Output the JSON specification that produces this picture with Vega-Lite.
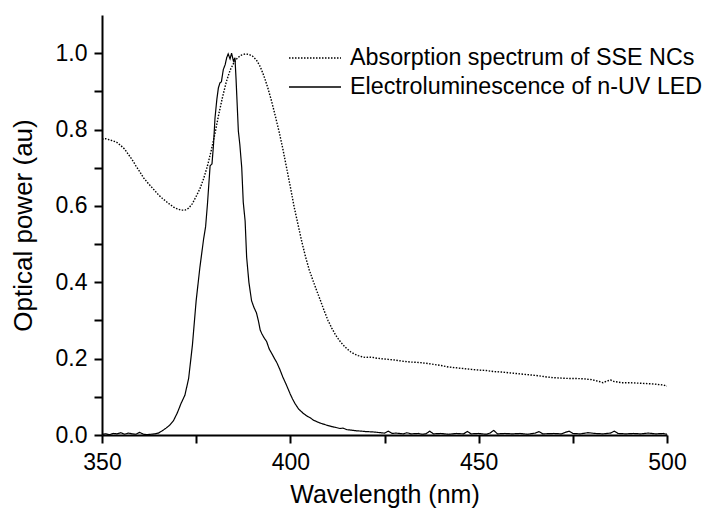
{
  "$schema": "https://vega.github.io/schema/vega-lite/v6.json",
  "width": 565,
  "height": 420,
  "autosize": {"type": "none"},
  "padding": {"left": 102, "top": 15, "right": 40, "bottom": 75},
  "background": "white",
  "datasets": {
    "abs": [
      {"w":350,"v":0.775},{"w":351,"v":0.776},{"w":352,"v":0.773},{"w":353,"v":0.770},{"w":354,"v":0.766},
      {"w":355,"v":0.758},{"w":356,"v":0.749},{"w":357,"v":0.735},{"w":358,"v":0.721},{"w":359,"v":0.705},
      {"w":360,"v":0.690},{"w":361,"v":0.674},{"w":362,"v":0.662},{"w":363,"v":0.651},{"w":364,"v":0.640},
      {"w":365,"v":0.629},{"w":366,"v":0.620},{"w":367,"v":0.612},{"w":368,"v":0.604},{"w":369,"v":0.597},
      {"w":370,"v":0.592},{"w":371,"v":0.589},{"w":372,"v":0.589},{"w":373,"v":0.594},{"w":374,"v":0.606},
      {"w":375,"v":0.625},{"w":376,"v":0.645},{"w":377,"v":0.672},{"w":378,"v":0.705},{"w":379,"v":0.745},
      {"w":380,"v":0.790},{"w":381,"v":0.840},{"w":382,"v":0.885},{"w":383,"v":0.925},{"w":384,"v":0.955},
      {"w":385,"v":0.975},{"w":386,"v":0.988},{"w":387,"v":0.995},{"w":388,"v":0.998},{"w":389,"v":0.997},
      {"w":390,"v":0.992},{"w":391,"v":0.982},{"w":392,"v":0.965},{"w":393,"v":0.940},{"w":394,"v":0.910},
      {"w":395,"v":0.875},{"w":396,"v":0.836},{"w":397,"v":0.795},{"w":398,"v":0.750},{"w":399,"v":0.700},
      {"w":400,"v":0.650},{"w":401,"v":0.598},{"w":402,"v":0.553},{"w":403,"v":0.508},{"w":404,"v":0.468},
      {"w":405,"v":0.433},{"w":406,"v":0.405},{"w":407,"v":0.378},{"w":408,"v":0.352},{"w":409,"v":0.325},
      {"w":410,"v":0.300},{"w":411,"v":0.280},{"w":412,"v":0.262},{"w":413,"v":0.248},{"w":414,"v":0.236},
      {"w":415,"v":0.226},{"w":416,"v":0.218},{"w":417,"v":0.212},{"w":418,"v":0.208},{"w":419,"v":0.205},
      {"w":420,"v":0.203},{"w":421,"v":0.204},{"w":422,"v":0.203},{"w":423,"v":0.201},{"w":424,"v":0.200},
      {"w":425,"v":0.199},{"w":426,"v":0.198},{"w":428,"v":0.196},{"w":430,"v":0.193},{"w":432,"v":0.191},
      {"w":434,"v":0.190},{"w":436,"v":0.188},{"w":438,"v":0.185},{"w":440,"v":0.182},{"w":442,"v":0.178},
      {"w":444,"v":0.176},{"w":446,"v":0.174},{"w":448,"v":0.172},{"w":450,"v":0.170},{"w":452,"v":0.169},
      {"w":454,"v":0.166},{"w":456,"v":0.165},{"w":458,"v":0.163},{"w":460,"v":0.161},{"w":462,"v":0.159},
      {"w":464,"v":0.157},{"w":466,"v":0.155},{"w":468,"v":0.152},{"w":470,"v":0.150},{"w":472,"v":0.149},
      {"w":474,"v":0.148},{"w":476,"v":0.148},{"w":478,"v":0.147},{"w":480,"v":0.145},{"w":482,"v":0.140},
      {"w":483,"v":0.137},{"w":484,"v":0.141},{"w":485,"v":0.144},{"w":486,"v":0.140},{"w":488,"v":0.137},
      {"w":490,"v":0.137},{"w":492,"v":0.136},{"w":494,"v":0.135},{"w":496,"v":0.134},{"w":498,"v":0.132},
      {"w":499,"v":0.131},{"w":500,"v":0.128}
    ],
    "el": [
      {"w":350,"v":0.002},{"w":351,"v":0.003},{"w":352,"v":0.001},{"w":353,"v":0.004},{"w":354,"v":0.003},
      {"w":355,"v":0.006},{"w":356,"v":0.002},{"w":357,"v":0.005},{"w":358,"v":0.003},{"w":359,"v":0.002},
      {"w":360,"v":0.007},{"w":361,"v":0.002},{"w":362,"v":0.001},{"w":363,"v":0.002},{"w":364,"v":0.003},
      {"w":365,"v":0.005},{"w":366,"v":0.011},{"w":367,"v":0.018},{"w":368,"v":0.026},{"w":369,"v":0.038},
      {"w":370,"v":0.058},{"w":371,"v":0.083},{"w":372,"v":0.104},{"w":373,"v":0.148},{"w":374,"v":0.235},
      {"w":375,"v":0.352},{"w":376,"v":0.440},{"w":377,"v":0.515},{"w":377.5,"v":0.545},{"w":378,"v":0.605},
      {"w":378.7,"v":0.705},{"w":379.2,"v":0.710},{"w":379.6,"v":0.760},{"w":380,"v":0.830},{"w":380.5,"v":0.880},
      {"w":380.9,"v":0.909},{"w":381.3,"v":0.922},{"w":381.7,"v":0.925},{"w":382.2,"v":0.957},{"w":382.7,"v":0.970},
      {"w":383.1,"v":0.988},{"w":383.5,"v":0.998},{"w":384,"v":0.985},{"w":384.4,"v":1.0},{"w":384.9,"v":0.979},
      {"w":385.3,"v":0.988},{"w":385.6,"v":0.930},{"w":386.2,"v":0.796},{"w":386.6,"v":0.760},{"w":387.1,"v":0.700},
      {"w":387.5,"v":0.610},{"w":388,"v":0.560},{"w":388.4,"v":0.466},{"w":389,"v":0.400},{"w":389.7,"v":0.352},
      {"w":390.3,"v":0.335},{"w":391,"v":0.320},{"w":391.5,"v":0.300},{"w":392,"v":0.275},{"w":392.4,"v":0.266},
      {"w":393,"v":0.255},{"w":393.7,"v":0.245},{"w":394.4,"v":0.225},{"w":395.1,"v":0.213},{"w":395.8,"v":0.200},
      {"w":396.4,"v":0.190},{"w":397.2,"v":0.172},{"w":398,"v":0.152},{"w":399,"v":0.130},{"w":399.9,"v":0.109},
      {"w":400.5,"v":0.096},{"w":401.2,"v":0.083},{"w":402.2,"v":0.068},{"w":403.4,"v":0.057},{"w":404.5,"v":0.049},
      {"w":405.3,"v":0.045},{"w":406.1,"v":0.039},{"w":407,"v":0.035},{"w":408,"v":0.031},{"w":409.6,"v":0.026},
      {"w":411,"v":0.022},{"w":412,"v":0.020},{"w":413.2,"v":0.017},{"w":414,"v":0.018},{"w":415,"v":0.014},
      {"w":416,"v":0.013},{"w":417.6,"v":0.011},{"w":419,"v":0.010},{"w":420,"v":0.009},{"w":422,"v":0.008},
      {"w":424,"v":0.006},{"w":425,"v":0.005},{"w":426,"v":0.010},{"w":427,"v":0.004},{"w":428,"v":0.005},
      {"w":430,"v":0.003},{"w":431,"v":0.006},{"w":432,"v":0.003},{"w":434,"v":0.004},{"w":435,"v":0.002},
      {"w":436,"v":0.003},{"w":437,"v":0.010},{"w":438,"v":0.003},{"w":440,"v":0.004},{"w":442,"v":0.002},
      {"w":444,"v":0.004},{"w":446,"v":0.003},{"w":447,"v":0.009},{"w":448,"v":0.003},{"w":450,"v":0.004},
      {"w":452,"v":0.002},{"w":453,"v":0.005},{"w":454,"v":0.012},{"w":455,"v":0.003},{"w":457,"v":0.004},
      {"w":459,"v":0.003},{"w":461,"v":0.004},{"w":463,"v":0.002},{"w":465,"v":0.005},{"w":466,"v":0.009},
      {"w":467,"v":0.003},{"w":470,"v":0.004},{"w":472,"v":0.003},{"w":473,"v":0.007},{"w":474,"v":0.010},
      {"w":475,"v":0.004},{"w":477,"v":0.003},{"w":479,"v":0.006},{"w":481,"v":0.004},{"w":483,"v":0.003},
      {"w":485,"v":0.005},{"w":486,"v":0.010},{"w":487,"v":0.004},{"w":489,"v":0.003},{"w":491,"v":0.004},
      {"w":493,"v":0.003},{"w":495,"v":0.005},{"w":497,"v":0.003},{"w":499,"v":0.004},{"w":500,"v":0.002}
    ]
  },
  "layer": [
    {
      "data": {"name": "abs"},
      "transform": [{"calculate": "'Absorption spectrum of SSE NCs'", "as": "s"}],
      "mark": {"type": "line", "color": "black", "strokeWidth": 1.4, "clip": true},
      "encoding": {
        "x": {"field": "w", "type": "quantitative"},
        "y": {"field": "v", "type": "quantitative"},
        "strokeDash": {"field": "s", "type": "nominal"}
      }
    },
    {
      "data": {"name": "el"},
      "transform": [{"calculate": "'Electroluminescence of n-UV LED'", "as": "s"}],
      "mark": {"type": "line", "color": "black", "strokeWidth": 1.2, "clip": true},
      "encoding": {
        "x": {
          "field": "w", "type": "quantitative",
          "scale": {"domain": [350, 500], "nice": false, "zero": false},
          "axis": {
            "title": "Wavelength (nm)",
            "values": [350, 375, 400, 425, 450, 475, 500],
            "labelExpr": "datum.value % 50 == 0 ? datum.label : ''",
            "labelPadding": 8,
            "titlePadding": 8
          }
        },
        "y": {
          "field": "v", "type": "quantitative",
          "scale": {"domain": [0, 1.1], "nice": false},
          "axis": {
            "title": "Optical power (au)",
            "values": [0, 0.1, 0.2, 0.3, 0.4, 0.5, 0.6, 0.7, 0.8, 0.9, 1.0],
            "labelExpr": "round(datum.value * 10) % 2 == 0 ? format(datum.value, '.1f') : ''",
            "labelPadding": 7,
            "titlePadding": 19,
            "titleFontSize": 26
          }
        },
        "strokeDash": {
          "field": "s", "type": "nominal",
          "scale": {
            "domain": ["Absorption spectrum of SSE NCs", "Electroluminescence of n-UV LED"],
            "range": [[1.5, 1.5], [1, 0]]
          },
          "legend": {
            "title": null,
            "orient": "none",
            "legendX": 186,
            "legendY": 31,
            "padding": 0,
            "clipHeight": 24,
            "symbolType": "stroke",
            "symbolSize": 2704,
            "symbolStrokeColor": "black",
            "symbolStrokeWidth": 1.3,
            "labelFont": "Liberation Sans",
            "labelFontSize": 23.3,
            "labelColor": "black",
            "labelOffset": 8,
            "labelLimit": 0,
            "rowPadding": 5
          }
        }
      }
    }
  ],
  "config": {
    "view": {"stroke": null},
    "axis": {
      "grid": false,
      "domainColor": "black",
      "domainWidth": 2,
      "tickColor": "black",
      "tickWidth": 2,
      "tickSize": 8,
      "labelFont": "Liberation Sans",
      "labelFontSize": 23,
      "labelColor": "black",
      "labelOverlap": false,
      "labelFlush": false,
      "titleFont": "Liberation Sans",
      "titleFontSize": 25,
      "titleFontWeight": "normal",
      "titleColor": "black"
    }
  }
}
